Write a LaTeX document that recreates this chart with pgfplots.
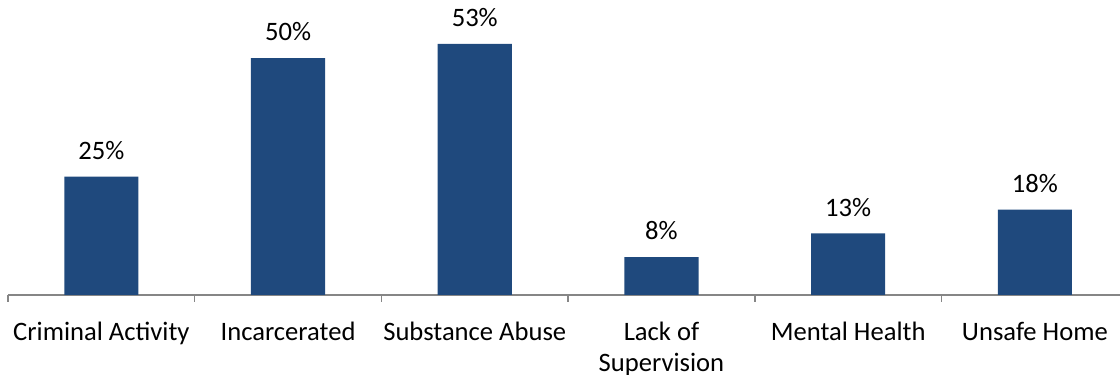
\documentclass[border=0pt]{standalone}
\usepackage{pgfplots}
\pgfplotsset{compat=1.18}
\usepackage{fontspec}
\setmainfont{Carlito}
\definecolor{barblue}{RGB}{31,73,125}
\definecolor{axisgray}{RGB}{134,134,134}

\begin{document}
\begin{tikzpicture}
\begin{axis}[
  name=ax, scale only axis, width=556pt, height=147.4pt,
  xmin=-0.5, xmax=5.456, ymin=0, ymax=62.2,
  /pgf/number format/assume math mode=true,
  axis x line=bottom, axis y line=none,
  x axis line style={-, draw=axisgray, line width=0.75pt},
  xtick={0,...,5},
  xticklabels={Criminal Activity, Incarcerated, Substance Abuse, {Lack of\\Supervision}, Mental Health, Unsafe Home},
  xticklabel style={align=center, font=\fontsize{13.3}{15.4}\selectfont, yshift=-10pt},
  major tick length=0pt,
  extra x ticks={-0.5,0.5,1.5,2.5,3.5,4.5},
  extra x tick labels={},
  extra x tick style={major tick length=3.5pt, tick align=outside,
    tick style={draw=axisgray, line width=0.75pt}},
  ybar, bar width=0.397, bar shift=0pt,
  nodes near coords={\pgfmathprintnumber{\pgfplotspointmeta}\%},
  every node near coord/.append style={font=\fontsize{13.3}{15.2}\selectfont, yshift=5pt},
  clip=false,
]
\addplot[fill=barblue, draw=none] coordinates {(0,25) (1,50) (2,53) (3,8) (4,13) (5,18)};
\end{axis}
\pgfresetboundingbox
\path ([shift={(-4pt,-40pt)}]ax.south west) rectangle ([shift={(556pt,147.5pt)}]ax.south west);
\end{tikzpicture}
\end{document}
